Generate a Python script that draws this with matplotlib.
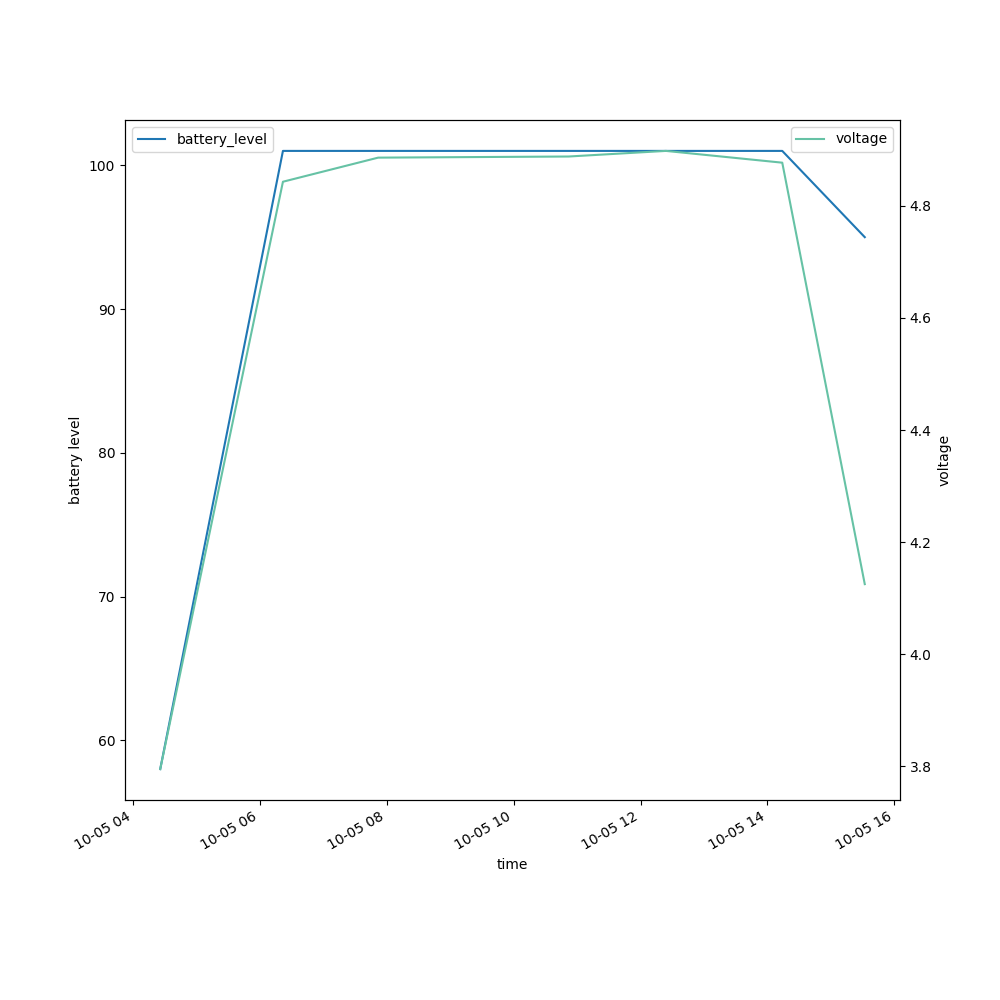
import matplotlib
matplotlib.use('Agg')
import matplotlib.pyplot as plt
import pandas as pd

# readings
times = pd.to_datetime(['2023-10-05 04:26', '2023-10-05 06:22', '2023-10-05 07:52',
                        '2023-10-05 10:52', '2023-10-05 12:24', '2023-10-05 14:14',
                        '2023-10-05 15:32'])
battery_level = [58, 101, 101, 101, 101, 101, 95]
voltage = [3.795, 4.843, 4.886, 4.888, 4.898, 4.877, 4.125]

fig, ax = plt.subplots(figsize=(10, 10), dpi=100)
ax.plot(times, battery_level, color='#1f77b4', label='battery_level')
ax.set_xlabel('time')
ax.set_ylabel('battery level')
ax.legend(loc='upper left')

ax2 = ax.twinx()
ax2.plot(times, voltage, color='#66c2a5', label='voltage')
ax2.set_ylabel('voltage')
ax2.legend(loc='upper right')

fig.autofmt_xdate()
fig.savefig('out.png')
